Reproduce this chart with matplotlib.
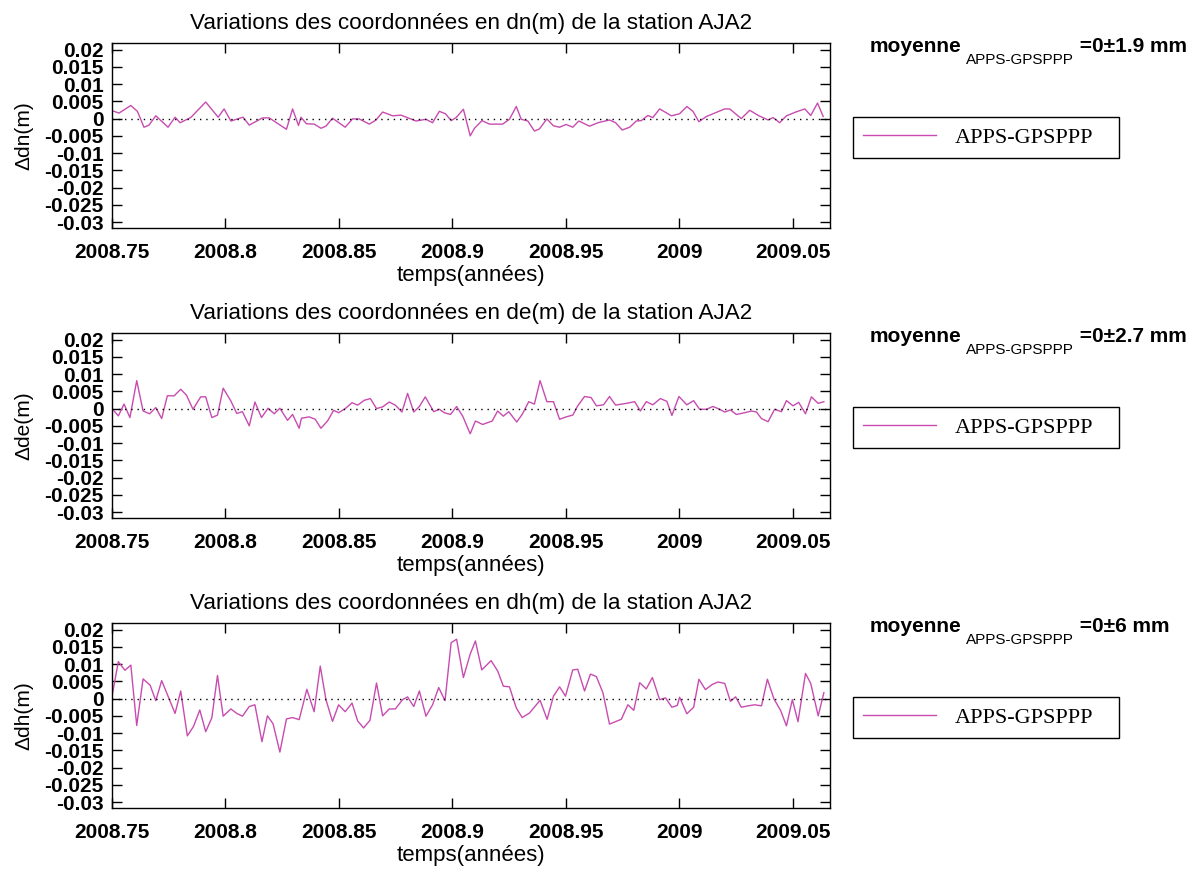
# -*- coding: utf-8 -*-

"""
Variations des coordonnees APPS - GPSPPP, station AJA2
"""

import numpy as np
import matplotlib
matplotlib.use("Agg")
import matplotlib.pyplot as pl
from matplotlib.ticker import FuncFormatter

# --- dn ---
dn_t = [2008.75, 2008.7531, 2008.7583, 2008.7612, 2008.7641, 2008.7663, 2008.7693, 2008.7747, 2008.7778, 2008.78,
	2008.7847, 2008.7913, 2008.7968, 2008.7994, 2008.8024, 2008.8078, 2008.8105, 2008.8163, 2008.8193, 2008.8269,
	2008.8296, 2008.8322, 2008.8333, 2008.8357, 2008.8391, 2008.8421, 2008.8443, 2008.8472, 2008.8528, 2008.856,
	2008.859, 2008.8634, 2008.8664, 2008.8693, 2008.8737, 2008.8774, 2008.884, 2008.8884, 2008.8913, 2008.8943,
	2008.897, 2008.8995, 2008.9017, 2008.9049, 2008.9079, 2008.9098, 2008.9131, 2008.9164, 2008.9222, 2008.9252,
	2008.9282, 2008.9304, 2008.9333, 2008.9362, 2008.9384, 2008.9417, 2008.9446, 2008.9473, 2008.9502, 2008.9531,
	2008.9558, 2008.9605, 2008.9642, 2008.9693, 2008.972, 2008.9749, 2008.9782, 2008.9811, 2008.9833, 2008.9862,
	2008.9884, 2008.9914, 2008.9966, 2009.0002, 2009.0034, 2009.0061, 2009.0087, 2009.012, 2009.0164, 2009.0201,
	2009.0223, 2009.0274, 2009.0311, 2009.0352, 2009.0392, 2009.0414, 2009.0443, 2009.0473, 2009.051, 2009.0554,
	2009.058, 2009.061, 2009.0635]
dn_v = [0.0023, 0.0016, 0.0038, 0.0021, -0.0025, -0.0019, 0.0008, -0.0025, 0.0004, -0.0012,
	0.0003, 0.0048, 0.0004, 0.0028, -0.0007, 0.0004, -0.0019, 0.0002, 0.0002, -0.0031,
	0.0028, -0.002, 0.0004, -0.0015, -0.0016, -0.0028, -0.0022, 0.0001, -0.0025, -0.0001,
	-0.0001, -0.0016, -0.0004, 0.0019, 0.0008, 0.001, -0.0007, -0.0002, -0.0012, 0.0021,
	0.0014, -0.0006, 0.0003, 0.0027, -0.005, -0.0028, -0.0006, -0.0016, -0.0016, -0.0002,
	0.0035, -0.0002, -0.0007, -0.0036, -0.003, -0.0001, -0.0021, -0.0025, -0.0017, -0.0025,
	-0.0007, -0.0022, -0.0012, -0.0004, -0.0012, -0.0033, -0.0025, -0.0007, -0.0006, 0.0009,
	0.0003, 0.0028, 0.0008, 0.0014, 0.0035, 0.0021, -0.0009, 0.0006, 0.0018, 0.0028,
	0.0028, 0.0, 0.0024, 0.0008, -0.0004, 0.0003, -0.0012, 0.0008, 0.0018, 0.0028,
	0.0009, 0.0045, 0.0006]

# --- de ---
de_t = [2008.75, 2008.7528, 2008.7553, 2008.7579, 2008.7609, 2008.7637, 2008.7666, 2008.7693, 2008.7719, 2008.7744,
	2008.7774, 2008.7803, 2008.7828, 2008.7857, 2008.7891, 2008.7913, 2008.794, 2008.7965, 2008.799, 2008.8024,
	2008.805, 2008.8075, 2008.8105, 2008.813, 2008.8159, 2008.8188, 2008.8215, 2008.824, 2008.8274, 2008.8296,
	2008.8325, 2008.8335, 2008.8369, 2008.8396, 2008.8421, 2008.845, 2008.8477, 2008.8499, 2008.8528, 2008.8558,
	2008.8583, 2008.8612, 2008.8639, 2008.8666, 2008.8693, 2008.8722, 2008.8749, 2008.8778, 2008.8803, 2008.883,
	2008.8855, 2008.8881, 2008.8918, 2008.8943,
	2008.8965, 2008.8992, 2008.9019, 2008.9046, 2008.9079, 2008.9102, 2008.9134, 2008.9176, 2008.92, 2008.9225,
	2008.9249, 2008.9284, 2008.9308, 2008.9337, 2008.9362, 2008.9387, 2008.9417, 2008.9446, 2008.9473, 2008.9502,
	2008.9531, 2008.9553, 2008.9583, 2008.9612, 2008.9635, 2008.9667, 2008.9693, 2008.972, 2008.9774, 2008.9804,
	2008.9829, 2008.9855, 2008.9884, 2008.9917, 2008.9946, 2008.9968, 2008.9999, 2009.0034, 2009.0064, 2009.009,
	2009.012, 2009.0149, 2009.0179, 2009.0201, 2009.0226, 2009.0252, 2009.0289, 2009.0319, 2009.0341, 2009.0363,
	2009.0392, 2009.0421, 2009.0451, 2009.0473, 2009.0502, 2009.0527, 2009.0557, 2009.0583, 2009.0613, 2009.0638]
de_v = [0.0, -0.0021, 0.0013, -0.0026, 0.0081, -0.0007, -0.0015, 0.0003, -0.0029, 0.0037,
	0.0037, 0.0056, 0.0039, -0.0002, 0.0034, 0.0034, -0.0026, -0.0019, 0.0059, 0.0022,
	-0.0014, -0.0009, -0.005, 0.0019, -0.0026, 0.0001, -0.0015, 0.0001, -0.0034, -0.0017,
	-0.0057, -0.0028, -0.0024, -0.0031, -0.0057, -0.0036, -0.0005, -0.0012, 0.0, 0.0017,
	0.001, 0.0024, 0.0029, 0.0, 0.0005, 0.0019, 0.001, -0.001, 0.0044, -0.001,
	0.0006, 0.0034, -0.0009, -0.0002,
	-0.0012, -0.0017, 0.0006, -0.0022, -0.0073, -0.0036, -0.0046, -0.0036, -0.0007, -0.0022,
	-0.0009, -0.0039, -0.0017, 0.002, 0.0013, 0.0081, 0.002, 0.002, -0.0031, -0.0024,
	-0.0019, 0.0008, 0.0035, 0.0032, 0.0008, 0.0011, 0.0035, 0.001, 0.0016, 0.002,
	-0.0007, 0.002, 0.0011, 0.0029, 0.0021, -0.002, 0.0035, 0.0011, 0.0023, -0.0002,
	-0.0002, 0.0006, -0.0002, -0.001, -0.0004, -0.0017, -0.0012, -0.0007, -0.001, -0.0029,
	-0.0038, -0.0002, -0.0009, 0.0023, 0.0008, 0.0018, -0.0015, 0.0034, 0.0015, 0.002]

# --- dh ---
dh_t = [2008.75, 2008.7528, 2008.7557, 2008.7583, 2008.7609, 2008.7637, 2008.7668, 2008.7693, 2008.7719, 2008.7747,
	2008.7778, 2008.7803, 2008.7832, 2008.7859, 2008.7887, 2008.7913, 2008.794, 2008.7965, 2008.799, 2008.8024,
	2008.805, 2008.8075, 2008.8105, 2008.813, 2008.8161, 2008.8185, 2008.821, 2008.824, 2008.8269, 2008.8296,
	2008.8325, 2008.8359, 2008.8391, 2008.8418, 2008.8443, 2008.8472, 2008.8499, 2008.8528, 2008.8558, 2008.8583,
	2008.8609, 2008.8637, 2008.8666, 2008.8693, 2008.8722, 2008.8749, 2008.8781, 2008.8803, 2008.883, 2008.8855,
	2008.8884, 2008.8913, 2008.894, 2008.8968,
	2008.8995, 2008.9019, 2008.9049, 2008.9079, 2008.9102, 2008.913, 2008.9171, 2008.92, 2008.9225, 2008.9252,
	2008.9282, 2008.9308, 2008.934, 2008.9387, 2008.9418, 2008.9446, 2008.9473, 2008.9499, 2008.9531, 2008.9553,
	2008.9583, 2008.9609, 2008.9635, 2008.9664, 2008.9693, 2008.9745, 2008.9774, 2008.98, 2008.9826, 2008.9855,
	2008.9882, 2008.9914, 2008.994, 2008.9968, 2008.9992, 2009.0002, 2009.0034, 2009.0064, 2009.0087, 2009.0116,
	2009.0146, 2009.0171, 2009.0201, 2009.0226, 2009.0249, 2009.0274, 2009.0304, 2009.0333, 2009.0363, 2009.0389,
	2009.0418, 2009.0447, 2009.0473, 2009.0499, 2009.0524, 2009.0557, 2009.058, 2009.0613, 2009.0638]
dh_v = [0.0007, 0.0107, 0.0082, 0.0097, -0.0078, 0.0057, 0.0039, -0.0006, 0.0052, 0.0007,
	-0.0043, 0.0022, -0.0108, -0.0081, -0.0033, -0.0096, -0.0056, 0.0067, -0.0051, -0.003,
	-0.0043, -0.0051, -0.0023, -0.0018, -0.0125, -0.005, -0.0073, -0.0155, -0.0059, -0.0055,
	-0.0061, 0.0027, -0.0038, 0.0094, -0.0003, -0.0066, -0.0018, -0.0038, -0.0013, -0.0065,
	-0.0085, -0.0063, 0.0045, -0.005, -0.003, -0.003, -0.0003, 0.0005, -0.0023, 0.0022,
	-0.0051, -0.0018, 0.0032, -0.0006,
	0.0162, 0.0172, 0.0061, 0.0129, 0.0167, 0.0083, 0.011, 0.008, 0.0036, 0.0034,
	-0.0027, -0.0055, -0.0042, -0.0005, -0.006, 0.0007, 0.0034, 0.0007, 0.0083, 0.0085,
	0.0022, 0.0071, 0.0064, 0.0017, -0.0074, -0.006, -0.0018, -0.0034, 0.0046, 0.0028,
	0.0061, -0.0003, 0.0002, -0.0025, -0.002, 0.0004, -0.0044, -0.0025, 0.0056, 0.0026,
	0.0041, 0.0048, 0.0044, -0.0008, 0.0005, -0.0025, -0.0021, -0.0018, -0.0021, 0.0056,
	-0.0001, -0.0034, -0.0079, -0.0003, -0.0067, 0.0073, 0.0044, -0.005, 0.0017]

components = ["dn", "de", "dh"]
ecarts = ["1.9", "2.7", "6"]
xticks = [2008.75, 2008.8, 2008.85, 2008.9, 2008.95, 2009.0, 2009.05]
yticks = [0.02, 0.015, 0.01, 0.005, 0.0, -0.005, -0.01, -0.015, -0.02, -0.025, -0.03]

W, H = 1204.0, 872.0
col = "#C84CB0"
sans = "Liberation Sans"
serif = "Liberation Serif"


def fmt(v, pos):
	return "%g" % round(v, 4)


def plotComponent(fig, i, t, v, comp, ecart):
	dy = 290 * i  # vertical shift in pixels between panels
	ax = fig.add_axes([112 / W, 1 - (228 + dy) / H, 718 / W, 185 / H])
	ax.plot(t, v, '-', color=col, lw=1.0, label="APPS-GPSPPP")
	ax.axhline(0, color='k', lw=1.0, ls=(0, (1, 3.5)))
	ax.set_xlim(2008.75, 2009.0665)
	ax.set_ylim(-0.0317, 0.0219)
	ax.set_xticks(xticks)
	ax.set_yticks(yticks)
	ax.xaxis.set_major_formatter(FuncFormatter(fmt))
	ax.yaxis.set_major_formatter(FuncFormatter(fmt))
	ax.tick_params(direction='in', length=7, width=1, top=True, right=True, labelsize=15)
	ax.tick_params(axis='x', pad=11)
	ax.tick_params(axis='y', pad=6)
	for lab in ax.get_xticklabels() + ax.get_yticklabels():
		lab.set_family(sans)
		lab.set_weight('bold')
	for s in ax.spines.values():
		s.set_linewidth(1.0)
	ax.set_title("Variations des coordonnées en " + comp + "(m) de la station AJA2",
		fontsize=16.2, family=sans, pad=10)
	ax.set_xlabel("temps(années)", fontsize=16, family=sans, labelpad=2)
	ax.set_ylabel("Δ" + comp + "(m)", fontsize=15, family=sans, labelpad=8)

	# moyenne_{APPS-GPSPPP} =0±x mm
	t1 = fig.text(870 / W, 1 - (52 + dy) / H, "moyenne", fontsize=15, family=sans,
		weight='bold', va='baseline')
	t2 = ax.annotate("APPS-GPSPPP", xy=(1, 0), xycoords=t1, xytext=(3, -6), textcoords='offset points',
		fontsize=11, family=sans, va='baseline', annotation_clip=False)
	ax.annotate(" =0±" + ecart + " mm", xy=(1, 0), xycoords=(t2, t1), xytext=(0, 0), textcoords='offset points',
		fontsize=15, family=sans, weight='bold', va='bottom', annotation_clip=False)

	leg = ax.legend(loc='upper left', bbox_to_anchor=(853 / W, 1 - (157 + dy) / H, 266 / W, 40 / H),
		bbox_transform=fig.transFigure, mode='expand', borderaxespad=0, fancybox=False,
		framealpha=1, edgecolor='k', handlelength=3.3, handletextpad=0.85, borderpad=0.45,
		prop={'family': serif, 'size': 16})
	leg.get_frame().set_linewidth(1.0)
	return ax


fig = pl.figure(figsize=(W / 100, H / 100), dpi=100)
plotComponent(fig, 0, dn_t, dn_v, components[0], ecarts[0])
plotComponent(fig, 1, de_t, de_v, components[1], ecarts[1])
plotComponent(fig, 2, dh_t, dh_v, components[2], ecarts[2])
pl.savefig("out.png", format='png', dpi=100)
pl.close()
